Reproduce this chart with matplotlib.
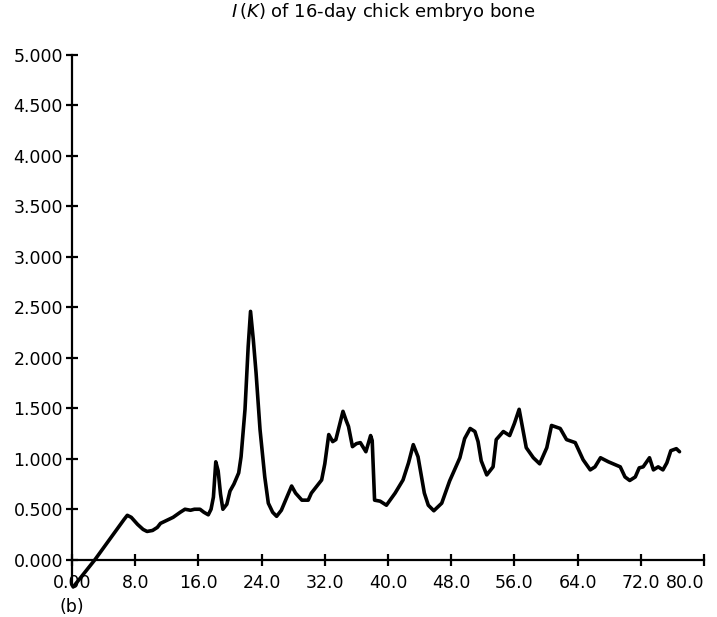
import matplotlib
matplotlib.use('Agg')
import matplotlib.pyplot as plt

plt.rcParams['font.family'] = ['DejaVu Sans']
plt.rcParams['mathtext.fontset'] = 'dejavusans'

# scattering vector K and intensity I(K)
k = [0.15, 2.9, 6.6, 7.0, 7.5, 8.3, 9.0, 9.5, 10.2, 10.8, 11.2, 12.0, 12.8,
     13.7, 14.3, 15.0, 15.5, 16.2, 16.7, 17.25, 17.6, 17.9, 18.2, 18.5, 18.8,
     19.1, 19.6, 20.0, 20.5, 21.1, 21.4, 21.9, 22.3, 22.6, 22.95, 23.3, 23.8,
     24.4, 24.85, 25.4, 25.9, 26.5, 27.2, 27.8, 28.3, 29.1, 29.9, 30.3, 30.8,
     31.6, 32.0, 32.5, 33.0, 33.4, 34.3, 34.7, 35.0, 35.5, 36.0, 36.5, 37.2,
     37.8, 38.0, 38.3, 39.0, 39.8, 40.9, 41.9, 42.6, 43.2, 43.8, 44.6, 45.1,
     45.8, 46.8, 47.8, 49.1, 49.7, 50.4, 51.0, 51.4, 51.8, 52.5, 53.3, 53.7,
     54.6, 55.4, 56.0, 56.6, 57.5, 58.4, 59.2, 60.1, 60.7, 61.8, 62.6, 63.7,
     64.7, 65.6, 66.2, 66.9, 67.9, 69.4, 70.0, 70.6, 71.3, 71.8, 72.3, 73.1,
     73.6, 74.2, 74.8, 75.3, 75.8, 76.5, 76.9]
intensity = [-0.27, 0.0, 0.40, 0.44, 0.42, 0.35, 0.30, 0.28, 0.29, 0.32, 0.36,
             0.39, 0.42, 0.47, 0.50, 0.49, 0.50, 0.50, 0.47, 0.445, 0.50, 0.62,
             0.97, 0.88, 0.65, 0.50, 0.55, 0.68, 0.75, 0.86, 1.02, 1.49, 2.11,
             2.46, 2.18, 1.85, 1.29, 0.82, 0.56, 0.47, 0.43, 0.49, 0.62, 0.73,
             0.66, 0.59, 0.59, 0.66, 0.71, 0.79, 0.95, 1.24, 1.17, 1.19, 1.47,
             1.38, 1.32, 1.12, 1.15, 1.16, 1.07, 1.23, 1.18, 0.59, 0.58, 0.54,
             0.66, 0.79, 0.96, 1.14, 1.02, 0.66, 0.54, 0.485, 0.56, 0.78, 1.01,
             1.20, 1.30, 1.27, 1.17, 0.98, 0.84, 0.92, 1.19, 1.27, 1.23, 1.35,
             1.49, 1.11, 1.01, 0.95, 1.11, 1.33, 1.30, 1.19, 1.16, 0.99, 0.89,
             0.92, 1.01, 0.97, 0.92, 0.82, 0.785, 0.82, 0.91, 0.92, 1.01, 0.89,
             0.92, 0.89, 0.96, 1.08, 1.10, 1.07]

xticks = [0, 8, 16, 24, 32, 40, 48, 56, 64, 72, 80]
xlabels = ['0.00', '8.0', '16.0', '24.0', '32.0', '40.0', '48.0', '56.0',
           '64.0', '72.0', '80.0']
yticks = [0.0, 0.5, 1.0, 1.5, 2.0, 2.5, 3.0, 3.5, 4.0, 4.5, 5.0]
ylabels = ['%.3f' % v for v in yticks]

fig = plt.figure(figsize=(7.17, 6.17), dpi=100)
ax = fig.add_axes([72 / 717, 27 / 617, 632 / 717, 535 / 617])

ax.plot(k, intensity, color='black', lw=2.6, solid_joinstyle='round',
        solid_capstyle='round', clip_on=False)

ax.set_xlim(0, 80)
ax.set_ylim(-0.3, 5.0)

for side in ('top', 'right'):
    ax.spines[side].set_visible(False)
ax.spines['bottom'].set_position(('data', 0))
ax.spines['left'].set_bounds(-0.25, 5.0)
for side in ('left', 'bottom'):
    ax.spines[side].set_linewidth(1.6)

ax.set_xticks(xticks)
ax.set_xticklabels(xlabels)
ax.set_yticks(yticks)
ax.set_yticklabels(ylabels)
ax.tick_params(direction='inout', length=9, width=1.6, labelsize=12.5)
ax.tick_params(axis='x', pad=6)
ax.tick_params(axis='y', pad=2)
# last label sits flush against the right edge
ax.get_xticklabels()[-1].set_horizontalalignment('right')

fig.text(0.534, 0.980, r'$I\,(K)$ of 16-day chick embryo bone',
         ha='center', va='center', fontsize=13)
fig.text(72 / 717, 1 - 607 / 617, '(b)', ha='center', va='center',
         fontsize=12.5)

fig.savefig('out.png', dpi=100, facecolor='white')
